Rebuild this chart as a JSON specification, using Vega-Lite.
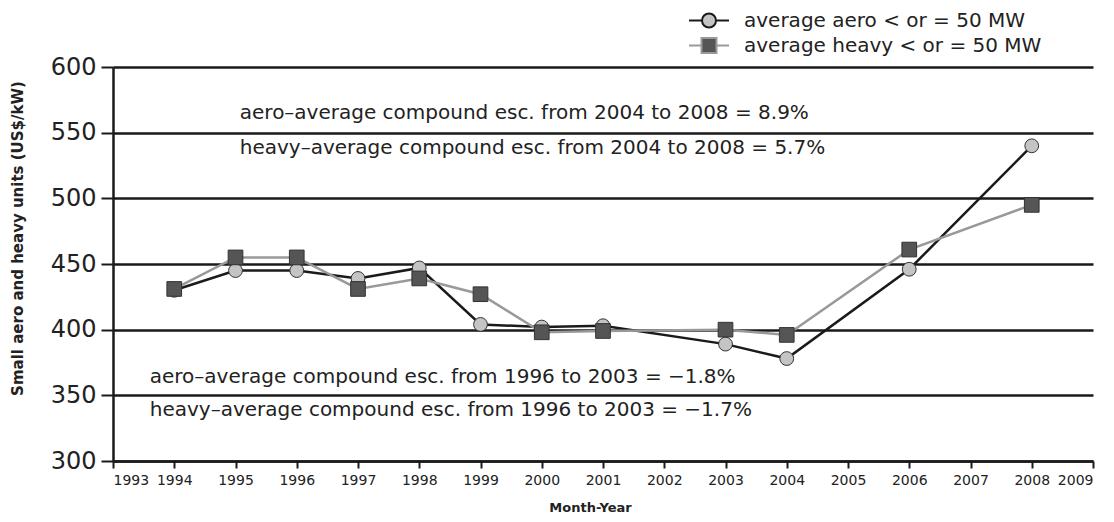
{
  "$schema": "https://vega.github.io/schema/vega-lite/v6.json",
  "width": 980,
  "height": 394,
  "autosize": {"type": "none"},
  "padding": {"left": 113, "top": 67, "right": 21, "bottom": 61},
  "background": "white",
  "config": {
    "font": "DejaVu Sans",
    "view": {"stroke": null},
    "legend": {
      "orient": "none", "legendX": 575, "legendY": -59, "title": null,
      "symbolOpacity": 1, "symbolStrokeWidth": 2, "symbolSize": 1600,
      "clipHeight": 25, "rowPadding": 0, "padding": 0,
      "labelFontSize": 20, "labelColor": "#222", "labelOffset": 14, "labelLimit": 500
    }
  },
  "datasets": {
    "series": [
      {"year": 1994, "value": 430, "series": "average aero < or = 50 MW"},
      {"year": 1995, "value": 445, "series": "average aero < or = 50 MW"},
      {"year": 1996, "value": 445, "series": "average aero < or = 50 MW"},
      {"year": 1997, "value": 439, "series": "average aero < or = 50 MW"},
      {"year": 1998, "value": 447, "series": "average aero < or = 50 MW"},
      {"year": 1999, "value": 404, "series": "average aero < or = 50 MW"},
      {"year": 2000, "value": 402, "series": "average aero < or = 50 MW"},
      {"year": 2001, "value": 403, "series": "average aero < or = 50 MW"},
      {"year": 2003, "value": 389, "series": "average aero < or = 50 MW"},
      {"year": 2004, "value": 378, "series": "average aero < or = 50 MW"},
      {"year": 2006, "value": 446, "series": "average aero < or = 50 MW"},
      {"year": 2008, "value": 540, "series": "average aero < or = 50 MW"},
      {"year": 1994, "value": 431, "series": "average heavy < or = 50 MW"},
      {"year": 1995, "value": 455, "series": "average heavy < or = 50 MW"},
      {"year": 1996, "value": 455, "series": "average heavy < or = 50 MW"},
      {"year": 1997, "value": 431, "series": "average heavy < or = 50 MW"},
      {"year": 1998, "value": 439, "series": "average heavy < or = 50 MW"},
      {"year": 1999, "value": 427, "series": "average heavy < or = 50 MW"},
      {"year": 2000, "value": 398, "series": "average heavy < or = 50 MW"},
      {"year": 2001, "value": 399, "series": "average heavy < or = 50 MW"},
      {"year": 2003, "value": 400, "series": "average heavy < or = 50 MW"},
      {"year": 2004, "value": 396, "series": "average heavy < or = 50 MW"},
      {"year": 2006, "value": 461, "series": "average heavy < or = 50 MW"},
      {"year": 2008, "value": 495, "series": "average heavy < or = 50 MW"}
    ],
    "notes": [
      {"x": 1995.07, "y": 565, "label": "aero–average compound esc. from 2004 to 2008 = 8.9%"},
      {"x": 1995.07, "y": 538.5, "label": "heavy–average compound esc. from 2004 to 2008 = 5.7%"},
      {"x": 1993.6, "y": 363.7, "label": "aero–average compound esc. from 1996 to 2003 = −1.8%"},
      {"x": 1993.6, "y": 339, "label": "heavy–average compound esc. from 1996 to 2003 = −1.7%"}
    ]
  },
  "layer": [
    {
      "data": {"name": "series"},
      "mark": {"type": "line", "strokeWidth": 2.5},
      "encoding": {
        "x": {
          "field": "year", "type": "quantitative",
          "scale": {"domain": [1993, 2009], "nice": false, "zero": false},
          "axis": {
            "values": [1993,1994,1995,1996,1997,1998,1999,2000,2001,2002,2003,2004,2005,2006,2007,2008,2009],
            "format": "d", "grid": false,
            "domainColor": "#1a1a1a", "domainWidth": 2.5,
            "tickColor": "#1a1a1a", "tickWidth": 2, "tickSize": 7,
            "labelFontSize": 14, "labelColor": "#222", "labelPadding": 5,
            "title": "Month-Year", "titleFontSize": 13, "titleFontWeight": "bold", "titleColor": "#222", "titlePadding": 14, "titleX": 477
          }
        },
        "y": {
          "field": "value", "type": "quantitative",
          "scale": {"domain": [300, 600], "nice": false, "zero": false},
          "axis": {
            "values": [300, 350, 400, 450, 500, 550, 600],
            "grid": true, "gridColor": "#1a1a1a", "gridWidth": 2.5,
            "domainColor": "#1a1a1a", "domainWidth": 2.5,
            "tickColor": "#1a1a1a", "tickWidth": 2, "tickSize": 12,
            "labelFontSize": 24, "labelColor": "#222", "labelPadding": 5,
            "title": "Small aero and heavy units (US$/kW)", "titleFontSize": 15, "titleFontWeight": "bold", "titleColor": "#222", "titlePadding": 25, "titleY": 171
          }
        },
        "color": {
          "field": "series", "type": "nominal",
          "scale": {"domain": ["average aero < or = 50 MW", "average heavy < or = 50 MW"], "range": ["#1a1a1a", "#999999"]}
        }
      }
    },
    {
      "data": {"name": "series"},
      "transform": [{"filter": "datum.series === 'average aero < or = 50 MW'"}],
      "mark": {"type": "point", "shape": "circle", "filled": true, "size": 190, "strokeWidth": 1, "fill": "#c4c4c4", "stroke": "#333333", "opacity": 1},
      "encoding": {
        "x": {"field": "year", "type": "quantitative"},
        "y": {"field": "value", "type": "quantitative"}
      }
    },
    {
      "data": {"name": "series"},
      "transform": [{"filter": "datum.series === 'average heavy < or = 50 MW'"}],
      "mark": {"type": "point", "shape": "square", "filled": true, "size": 215, "strokeWidth": 1, "fill": "#555555", "stroke": "#333333", "opacity": 1},
      "encoding": {
        "x": {"field": "year", "type": "quantitative"},
        "y": {"field": "value", "type": "quantitative"}
      }
    },
    {
      "data": {"name": "series"},
      "transform": [{"filter": "datum.year > 3000"}],
      "mark": {"type": "point", "filled": true, "size": 1600, "strokeWidth": 2},
      "encoding": {
        "x": {"field": "year", "type": "quantitative"},
        "y": {"field": "value", "type": "quantitative"},
        "shape": {
          "field": "series", "type": "nominal",
          "scale": {"domain": ["average aero < or = 50 MW", "average heavy < or = 50 MW"],
            "range": ["M-1,0H-0.35M0.35,0H1M-0.35,0A0.35,0.35,0,1,1,0.35,0A0.35,0.35,0,1,1,-0.35,0Z", "M-1,0H-0.375M0.375,0H1M-0.375,-0.375H0.375V0.375H-0.375Z"]}
        },
        "fill": {
          "field": "series", "type": "nominal",
          "scale": {"domain": ["average aero < or = 50 MW", "average heavy < or = 50 MW"], "range": ["#c4c4c4", "#555555"]}
        },
        "stroke": {
          "field": "series", "type": "nominal",
          "scale": {"domain": ["average aero < or = 50 MW", "average heavy < or = 50 MW"], "range": ["#1a1a1a", "#999999"]}
        }
      }
    },
    {
      "data": {"name": "notes"},
      "mark": {"type": "text", "align": "left", "baseline": "middle", "fontSize": 20, "color": "#222"},
      "encoding": {
        "x": {"field": "x", "type": "quantitative"},
        "y": {"field": "y", "type": "quantitative"},
        "text": {"field": "label"}
      }
    }
  ]
}
